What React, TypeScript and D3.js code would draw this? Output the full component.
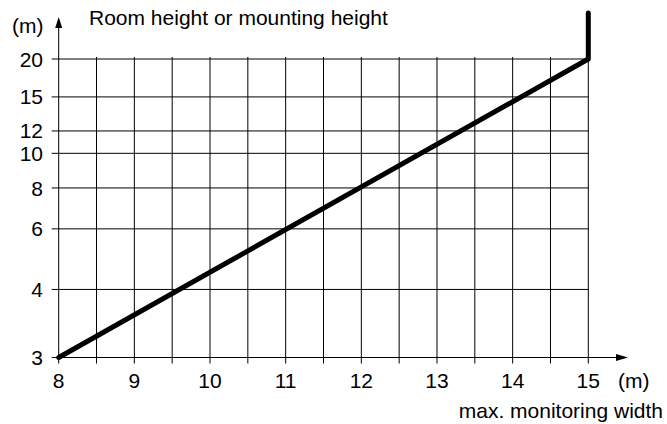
import { useEffect, useRef } from "react";
import * as d3 from "d3";

// monitoring width (m) on x, room height (m) on y
const xTicks = [8, 9, 10, 11, 12, 13, 14, 15];
const xGrid = [8.5, 9, 9.5, 10, 10.5, 11, 11.5, 12, 12.5, 13, 13.5, 14, 14.5, 15];
const yTicks = [3, 4, 6, 8, 10, 12, 15, 20];
const widths = [8, 15];
const heights = [3, 20];

export default function App() {
  const ref = useRef<SVGSVGElement>(null);

  useEffect(() => {
    const width = 667;
    const height = 424;
    const left = 58.7;
    const right = 588.3;
    const top = 59;
    const bottom = 357.5;

    const svg = d3.select(ref.current);
    svg.selectAll("*").remove();
    svg
      .attr("width", width)
      .attr("height", height)
      .attr("viewBox", [0, 0, width, height].join(" "))
      .style("position", "absolute")
      .style("left", "0px")
      .style("top", "0px")
      .style("font-family", "'Liberation Sans', Arial, sans-serif")
      .style("font-size", "21px");

    const x = d3.scaleLinear().domain([8, 15]).range([left, right]);

    // the printed scale is uneven, so map each tick to its own height
    const span = bottom - top;
    const yFrac = [0, 0.228, 0.431, 0.568, 0.684, 0.759, 0.873, 1];
    const y = d3
      .scaleLinear()
      .domain(yTicks)
      .range(yFrac.map(f => bottom - f * span));

    // grid
    const grid = svg.append("g").attr("stroke", "#000").attr("stroke-width", 1);
    grid
      .selectAll("line.v")
      .data(xGrid)
      .join("line")
      .attr("x1", d => x(d))
      .attr("x2", d => x(d))
      .attr("y1", top - 2)
      .attr("y2", bottom + 6);
    grid
      .selectAll("line.h")
      .data(yTicks)
      .join("line")
      .attr("x1", left - 7)
      .attr("x2", right)
      .attr("y1", d => y(d))
      .attr("y2", d => y(d));

    // axes with arrows
    svg
      .append("line")
      .attr("x1", left)
      .attr("x2", left)
      .attr("y1", bottom + 6)
      .attr("y2", 24)
      .attr("stroke", "#000");
    svg
      .append("path")
      .attr("d", `M${left},17 L${left - 3.5},28 L${left + 3.5},28 Z`)
      .attr("fill", "#000");
    svg
      .append("line")
      .attr("x1", left)
      .attr("x2", 620)
      .attr("y1", bottom)
      .attr("y2", bottom)
      .attr("stroke", "#000");
    svg
      .append("path")
      .attr("d", `M628,${bottom} L616,${bottom - 3.5} L616,${bottom + 3.5} Z`)
      .attr("fill", "#000");

    // tick labels
    svg
      .append("g")
      .selectAll("text")
      .data(xTicks)
      .join("text")
      .attr("x", d => x(d))
      .attr("y", 388)
      .attr("text-anchor", "middle")
      .text(d => d);
    svg
      .append("g")
      .selectAll("text")
      .data(yTicks)
      .join("text")
      .attr("x", 43)
      .attr("y", d => y(d))
      .attr("dy", "0.36em")
      .attr("text-anchor", "end")
      .text(d => d);

    svg.append("text").attr("x", 12).attr("y", 33).text("(m)");
    svg.append("text").attr("x", 89).attr("y", 25).text("Room height or mounting height");
    svg.append("text").attr("x", 618).attr("y", 388).text("(m)");
    svg
      .append("text")
      .attr("x", 663)
      .attr("y", 418)
      .attr("text-anchor", "end")
      .text("max. monitoring width");

    // curve
    const pts: [number, number][] = widths.map((w, i) => [x(w), y(heights[i])]);
    const last = pts[pts.length - 1];
    pts.push([last[0], 13]);
    svg
      .append("path")
      .attr("d", d3.line()(pts))
      .attr("fill", "none")
      .attr("stroke", "#000")
      .attr("stroke-width", 5)
      .attr("stroke-linecap", "round")
      .attr("stroke-linejoin", "round");
  }, []);

  return <svg ref={ref}></svg>;
}
